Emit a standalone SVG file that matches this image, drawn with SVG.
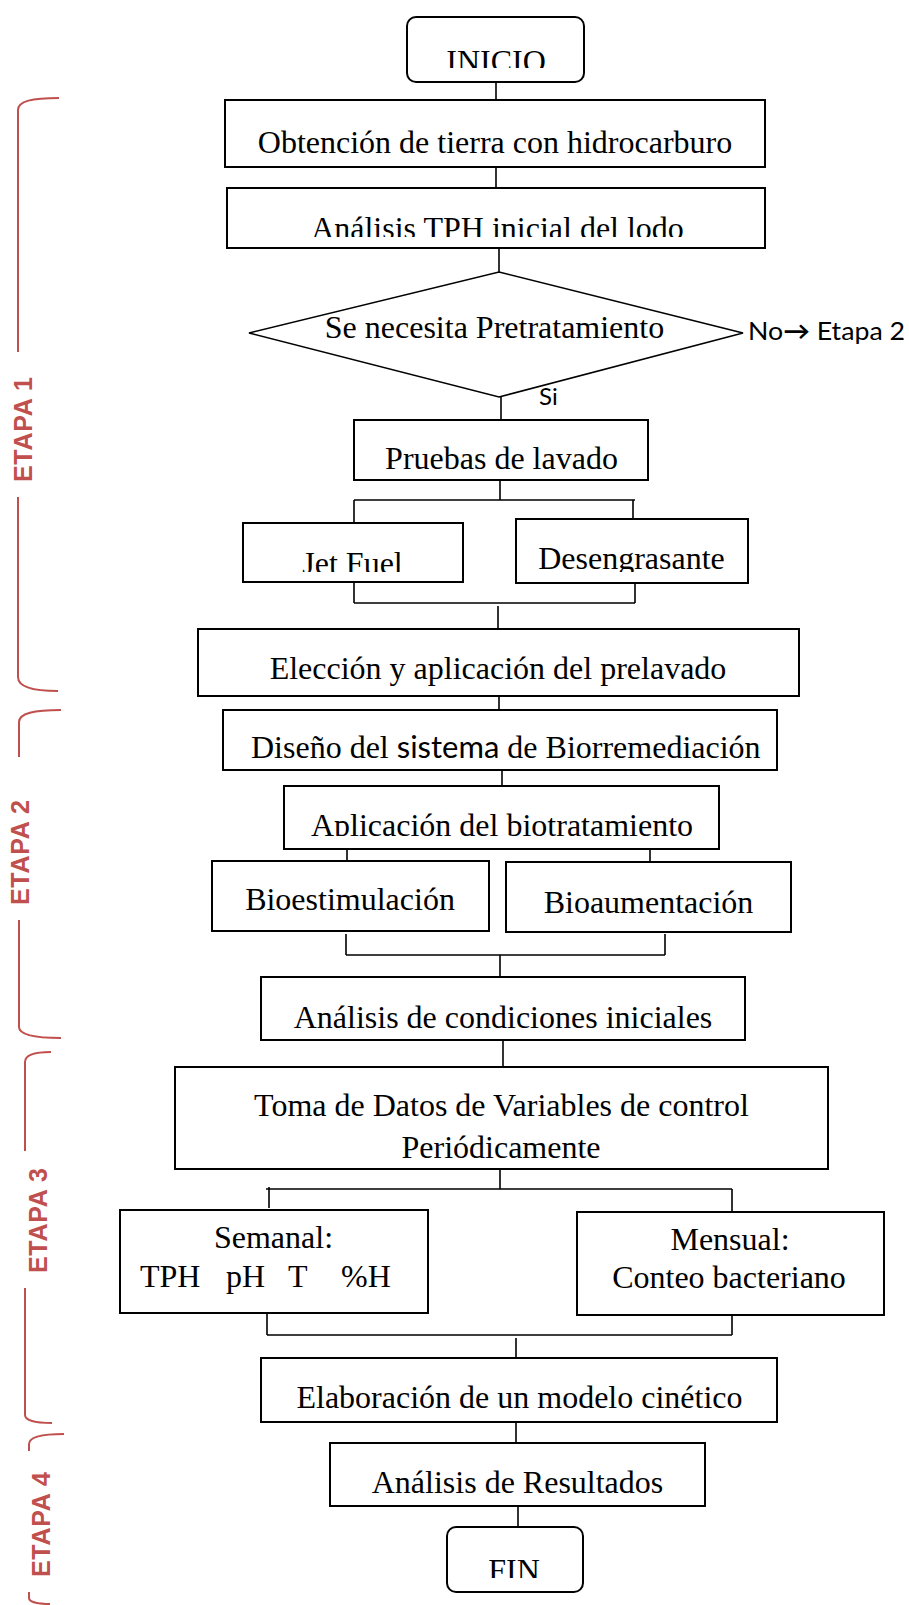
<svg xmlns="http://www.w3.org/2000/svg" width="909" height="1605" viewBox="0 0 909 1605">
<style>
.box{fill:#fff;stroke:#000;stroke-width:2}
.ln{fill:none;stroke:#000;stroke-width:1.6}
.t{font-family:"Liberation Serif","Times New Roman",serif;font-size:32px;fill:#000;text-anchor:middle}
.s{font-family:Lato,"Liberation Sans",sans-serif;fill:#000}
.br{fill:none;stroke:#C0504D;stroke-width:2}
.et{font-family:"Liberation Sans",Arial,sans-serif;font-weight:bold;font-size:25px;fill:#C0504D;text-anchor:middle}
</style>
<defs>
<clipPath id="cInicio"><rect x="400" y="10" width="200" height="58"/></clipPath>
<clipPath id="cTph"><rect x="220" y="190" width="550" height="47"/></clipPath>
<clipPath id="cJet"><rect x="240" y="520" width="520" height="52"/></clipPath>
<clipPath id="cApl"><rect x="280" y="788" width="445" height="48"/></clipPath>
<clipPath id="cFin"><rect x="440" y="1530" width="150" height="48"/></clipPath>
</defs>

<g id="braces">
<path class="br" d="M59,98 C32,98 18,101 18,110 L18,352"/>
<path class="br" d="M18,497 L18,677 C18,686 30,691 58,691"/>
<text class="et" transform="translate(32,429.5) rotate(-90)" textLength="105" lengthAdjust="spacing">ETAPA 1</text>
<path class="br" d="M61,710 C34,710 19,713 19,722 L19,757"/>
<path class="br" d="M19,920 L19,1027 C19,1034 32,1038 61,1038"/>
<text class="et" transform="translate(29,852.5) rotate(-90)" textLength="105" lengthAdjust="spacing">ETAPA 2</text>
<path class="br" d="M51,1052 C36,1052 25,1055 25,1062 L25,1151"/>
<path class="br" d="M25,1288 L25,1415 C25,1420 35,1423 52,1423"/>
<text class="et" transform="translate(47,1220.5) rotate(-90)" textLength="105" lengthAdjust="spacing">ETAPA 3</text>
<path class="br" d="M64,1434 C42,1434 29,1437 29,1444 L29,1451"/>
<path class="br" d="M29,1592 L29,1598 C29,1602 38,1604 50,1604"/>
<text class="et" transform="translate(50,1524.5) rotate(-90)" textLength="105" lengthAdjust="spacing">ETAPA 4</text>
</g>

<g id="connectors">
<path class="ln" d="M496,82 V100"/>
<path class="ln" d="M496,167 V188"/>
<path class="ln" d="M499,248 V272"/>
<path class="ln" d="M501,397 V420"/>
<path class="ln" d="M500,480 V500 M354,500 H635 M354,500 V523 M633,500 V519"/>
<path class="ln" d="M354,582 V603 M635,581 V603 M354,603 H635"/>
<path class="ln" d="M498,606 V629"/>
<path class="ln" d="M499,696 V710"/>
<path class="ln" d="M502,770 V786"/>
<path class="ln" d="M347,849 V861 M650,847 V867"/>
<path class="ln" d="M346,934 V955 M665,934 V955 M346,955 H665"/>
<path class="ln" d="M500,955 V977"/>
<path class="ln" d="M503,1040 V1067"/>
<path class="ln" d="M500,1169 V1189 M266,1189 H732 M269,1187 V1208 M732,1189 V1212"/>
<path class="ln" d="M267,1313 V1335 M732,1315 V1335 M267,1335 H732"/>
<path class="ln" d="M516,1338 V1358"/>
<path class="ln" d="M516,1422 V1443"/>
<path class="ln" d="M518,1506 V1527"/>
</g>

<g id="inicio">
<rect class="box" x="407" y="17" width="177" height="65" rx="9"/>
<text class="t" x="496" y="72" clip-path="url(#cInicio)">INICIO</text>
</g>
<g id="obtencion">
<rect class="box" x="225" y="100" width="540" height="67"/>
<text class="t" x="495" y="153">Obtención de tierra con hidrocarburo</text>
</g>
<g id="analisis-tph">
<rect class="box" x="227" y="188" width="538" height="60"/>
<text class="t" x="497.5" y="239" clip-path="url(#cTph)">Análisis TPH inicial del lodo</text>
</g>
<g id="decision">
<polygon points="499,272 743,333 499,397 249,333" fill="#fff" stroke="#000" stroke-width="1.6"/>
<text class="t" x="494.5" y="338">Se necesita Pretratamiento</text>
<text class="s" x="748" y="340" font-size="25" textLength="157" lengthAdjust="spacingAndGlyphs">No<tspan font-weight="bold">→</tspan> Etapa 2</text>
<text class="s" x="539" y="405" font-size="24">Si</text>
</g>
<g id="pruebas">
<rect class="box" x="354" y="420" width="294" height="60"/>
<text class="t" x="501.5" y="469">Pruebas de lavado</text>
</g>
<g id="jetfuel">
<rect class="box" x="243" y="523" width="220" height="59"/>
<text class="t" x="352.5" y="574" clip-path="url(#cJet)">Jet Fuel</text>
</g>
<g id="desengrasante">
<rect class="box" x="516" y="519" width="232" height="64"/>
<text class="t" x="631.5" y="569" clip-path="url(#cJet)">Desengrasante</text>
</g>
<g id="eleccion">
<rect class="box" x="198" y="629" width="601" height="67"/>
<text class="t" x="498" y="679">Elección y aplicación del prelavado</text>
</g>
<g id="diseno">
<rect class="box" x="223" y="710" width="554" height="60"/>
<text class="t" x="251" y="758" style="text-anchor:start">Diseño del <tspan font-family="Lato, 'Liberation Sans', sans-serif" font-size="31">sistema</tspan> de Biorremediación</text>
</g>
<g id="aplicacion">
<rect class="box" x="284" y="786" width="435" height="63"/>
<text class="t" x="502" y="836" clip-path="url(#cApl)">Aplicación del biotratamiento</text>
</g>
<g id="bioestimulacion">
<rect class="box" x="212" y="861" width="277" height="70"/>
<text class="t" x="350" y="910">Bioestimulación</text>
</g>
<g id="bioaumentacion">
<rect class="box" x="506" y="862" width="285" height="70"/>
<text class="t" x="648.5" y="913">Bioaumentación</text>
</g>
<g id="condiciones">
<rect class="box" x="261" y="977" width="484" height="63"/>
<text class="t" x="503" y="1028">Análisis de condiciones iniciales</text>
</g>
<g id="toma">
<rect class="box" x="175" y="1067" width="653" height="102"/>
<text class="t" x="501.5" y="1116">Toma de Datos de Variables de control</text>
<text class="t" x="501" y="1158">Periódicamente</text>
</g>
<g id="semanal">
<rect class="box" x="120" y="1210" width="308" height="103"/>
<text class="t" x="273.5" y="1248">Semanal:</text>
<text class="t" y="1287" style="text-anchor:start"><tspan x="140">TPH</tspan><tspan x="226">pH</tspan><tspan x="288">T</tspan><tspan x="341">%H</tspan></text>
</g>
<g id="mensual">
<rect class="box" x="577" y="1212" width="307" height="103"/>
<text class="t" x="730" y="1250">Mensual:</text>
<text class="t" x="729" y="1288">Conteo bacteriano</text>
</g>
<g id="elaboracion">
<rect class="box" x="261" y="1358" width="516" height="64"/>
<text class="t" x="519.5" y="1408">Elaboración de un modelo cinético</text>
</g>
<g id="resultados">
<rect class="box" x="330" y="1443" width="375" height="63"/>
<text class="t" x="517.5" y="1493">Análisis de Resultados</text>
</g>
<g id="fin">
<rect class="box" x="447" y="1527" width="136" height="65" rx="9"/>
<text class="t" x="514" y="1581" clip-path="url(#cFin)">FIN</text>
</g>
</svg>
